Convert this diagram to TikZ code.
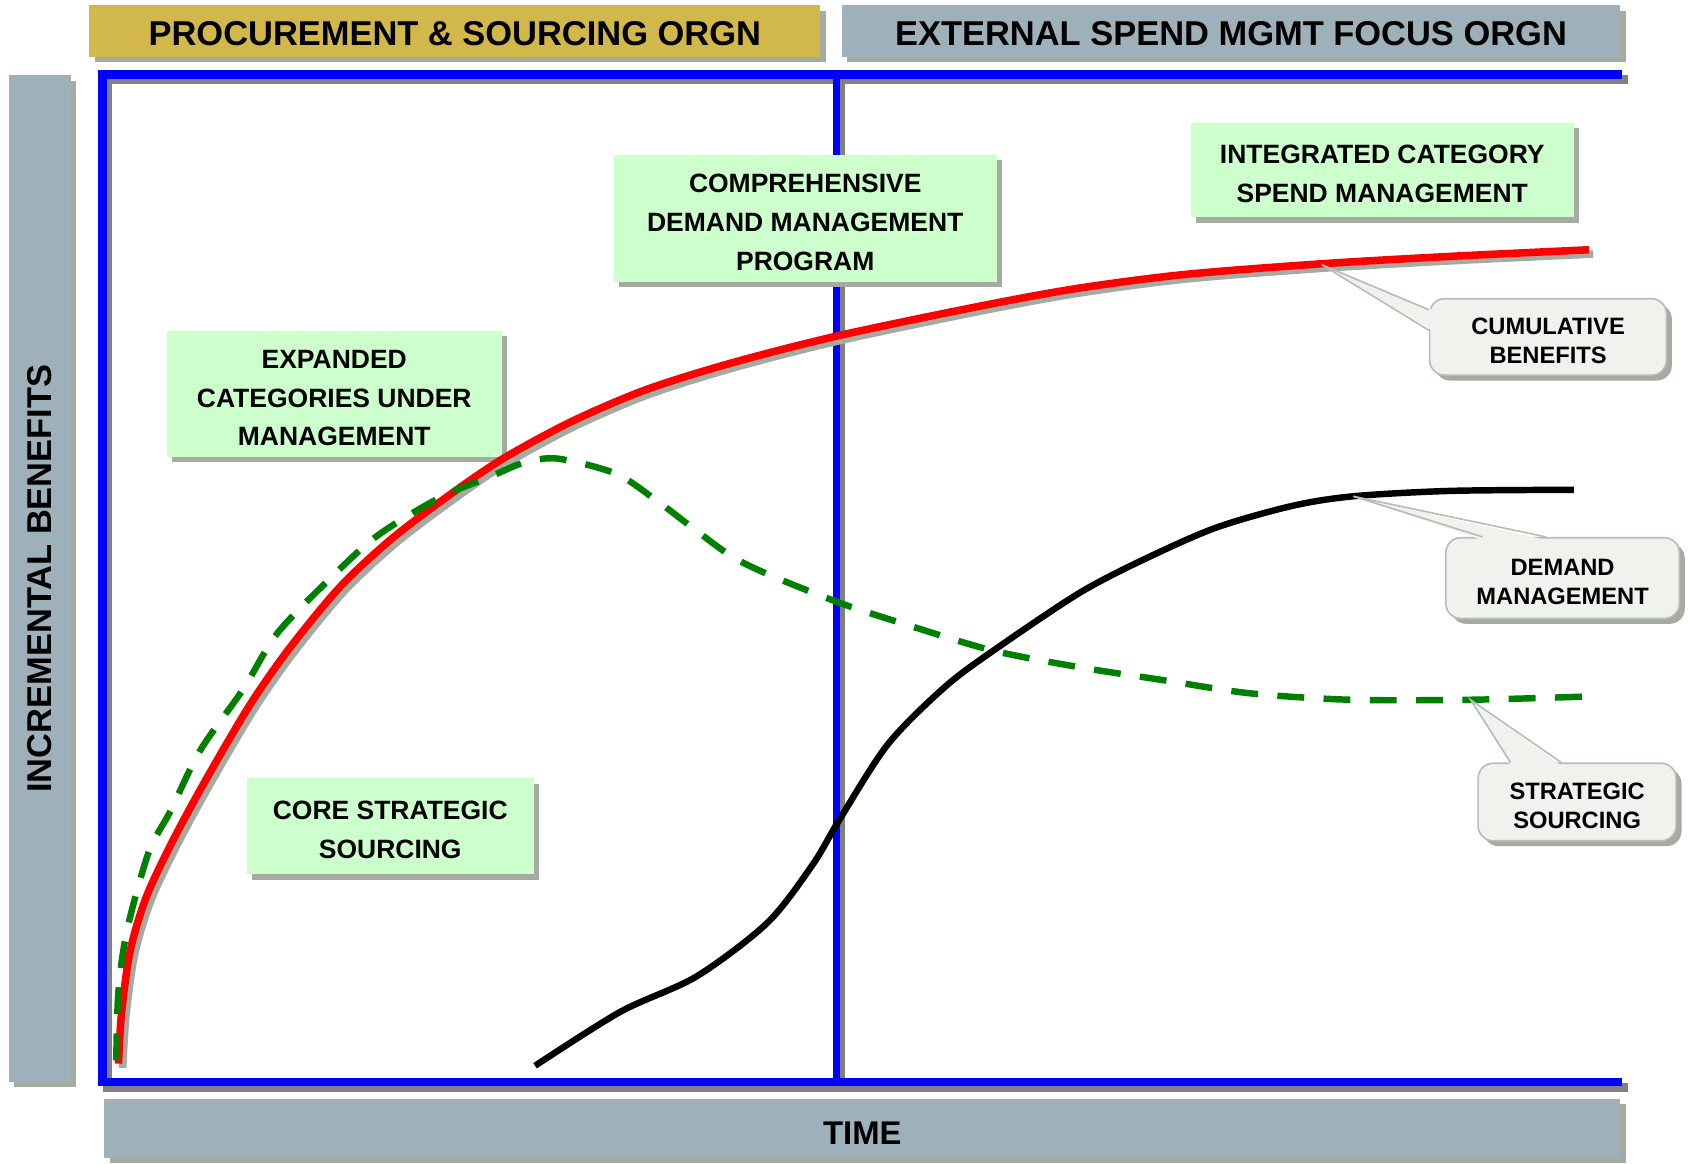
\documentclass[tikz,border=0pt]{standalone}
\usepackage{fontspec}
\setmainfont{Liberation Sans}
\usetikzlibrary{shadows,calc}

\definecolor{goldbar}{RGB}{210,184,74}
\definecolor{slatebar}{RGB}{158,177,186}
\definecolor{smoke}{RGB}{165,171,160}
\definecolor{mint}{RGB}{204,255,204}
\definecolor{cloud}{RGB}{240,242,237}
\definecolor{rim}{RGB}{184,188,182}
\definecolor{leaf}{RGB}{0,128,0}

\begin{document}
\begin{tikzpicture}[x=1pt,y=-1pt,
		lift/.style={drop shadow={shadow xshift=5pt,shadow yshift=-5pt,fill=smoke,opacity=1}},
		orgbar/.style={lift,inner sep=0pt,font=\bfseries\fontsize{32}{38}\selectfont,execute at begin node={\rule{0pt}{26.9pt}}},
		stagebox/.style={lift,fill=mint,inner sep=0pt,align=center,font=\bfseries\fontsize{24.6}{36}\selectfont},
		tagbox/.style={lift,fill=cloud,draw=rim,line width=1.5pt,rounded corners=14pt,inner sep=0pt,align=center,font=\bfseries\fontsize{22}{27}\selectfont},
		tagside/.style={draw=rim,line width=1.5pt,line join=miter},
		bluerule/.style={blue,line width=8pt},
		greyrule/.style={gray,line width=8pt}]
	\def\stagetop{\rule{0pt}{24.6pt}}
	\def\tagtop{\rule{0pt}{21.8pt}}
	\useasboundingbox (0,0) rectangle (1568,1081);
	% thanh tieu de
	\node[orgbar,fill=goldbar,minimum width=679pt,minimum height=48pt] (proc) at (422.5,29) {PROCUREMENT \& SOURCING ORGN};
	\node[orgbar,fill=slatebar,minimum width=723pt,minimum height=48pt] (ext) at (1143.5,29) {EXTERNAL SPEND MGMT FOCUS ORGN};
	\node[orgbar,fill=slatebar,minimum width=58pt,minimum height=935pt] (incr) at (37,537.5) {\rotatebox{90}{INCREMENTAL BENEFITS}};
	\node[orgbar,fill=slatebar,minimum width=1408pt,minimum height=55pt,font=\bfseries\fontsize{30.5}{36}\selectfont] (time) at (801,1048) {\rule{0pt}{29.8pt}TIME};
	% khung xanh
	\draw[greyrule] (100,74) -- (1512,74);
	\draw[greyrule] (100,70) -- (100,1014);
	\draw[greyrule] (96,1010) -- (1512,1010);
	\draw[greyrule,line width=6pt] (782,74) -- (782,1014);
	\draw[bluerule] (91,69) -- (1507,69);
	\draw[bluerule] (95,65) -- (95,1009);
	\draw[bluerule] (91,1005) -- (1507,1005);
	\draw[bluerule,line width=6pt] (777,69) -- (777,1005);
	% cac giai doan
	\node[stagebox,minimum width=356pt,minimum height=118pt] (comp) at (748,203) {\stagetop COMPREHENSIVE\\DEMAND MANAGEMENT\\PROGRAM};
	\node[stagebox,minimum width=356pt,minimum height=88pt] (integ) at (1284,158) {\stagetop INTEGRATED CATEGORY\\SPEND MANAGEMENT};
	\node[stagebox,minimum width=311pt,minimum height=117pt] (expand) at (310.5,366) {\stagetop EXPANDED\\CATEGORIES UNDER\\MANAGEMENT};
	\node[stagebox,minimum width=267pt,minimum height=89pt] (core) at (362.5,767.5) {\stagetop CORE STRATEGIC\\SOURCING};
	% duong cong
	\def\cumline#1{\draw[#1] plot[smooth] coordinates {(110,988) (113,940) (121,883) (136,833) (161,780) (192,723) (232,655) (269,602) (316,545) (362,502) (409,466) (464,428) (530,392) (600,362) (680,337) (778,312) (907,285) (1000,268) (1100,255) (1228,245) (1350,238) (1476,232)};}
	\cumline{smoke,line width=7pt,shift={(4,4)}}
	\cumline{red,line width=7pt}
	\draw[leaf,line width=6pt,dash pattern=on 25pt off 18pt] plot[smooth] coordinates {(108,985) (110,921) (118,864) (138,792) (158,754) (186,697) (226,640) (257,589) (304,540) (350,498) (409,462) (455,443) (486,430) (518,426) (572,440) (610,465) (643,490) (680,517) (717,535) (780,560) (838,579) (921,604) (1004,620) (1082,632) (1161,644) (1254,650) (1366,650) (1474,647)};
	\draw[line width=6pt] plot[smooth] coordinates {(497,990) (576,940) (647,907) (713,857) (755,803) (780,761) (825,691) (879,637) (929,600) (1004,550) (1066,518) (1130,490) (1200,470) (1257,461) (1347,456) (1462,455)};
	% chu thich
	\coordinate (cumtip) at (1228,246);
	\coordinate (demtip) at (1257,461);
	\coordinate (srctip) at (1366,650);
	\node[tagbox,minimum width=220pt,minimum height=71pt] (cum) at (1438,313) {\tagtop CUMULATIVE\\BENEFITS};
	\node[tagbox,minimum width=217pt,minimum height=75pt] (dem) at (1451.5,537) {\tagtop DEMAND\\MANAGEMENT};
	\node[tagbox,minimum width=184pt,minimum height=72pt] (src) at (1465,745) {\tagtop STRATEGIC\\SOURCING};
	\fill[cloud] (cumtip) -- ($(cum.north west)+(3,11)$) -- ($(cum.north west)+(3,30)$) -- cycle;
	\draw[tagside] ($(cum.north west)+(0,11)$) -- (cumtip) -- ($(cum.north west)+(0,30)$);
	\fill[cloud] (demtip) -- ($(dem.north west)+(35,3)$) -- ($(dem.north west)+(94,3)$) -- cycle;
	\draw[tagside] ($(dem.north west)+(35,0)$) -- (demtip) -- ($(dem.north west)+(94,0)$);
	\fill[cloud] (srctip) -- ($(src.north west)+(31,3)$) -- ($(src.north west)+(78,3)$) -- cycle;
	\draw[tagside] ($(src.north west)+(31,0)$) -- (srctip) -- ($(src.north west)+(78,0)$);
\end{tikzpicture}
\end{document}
